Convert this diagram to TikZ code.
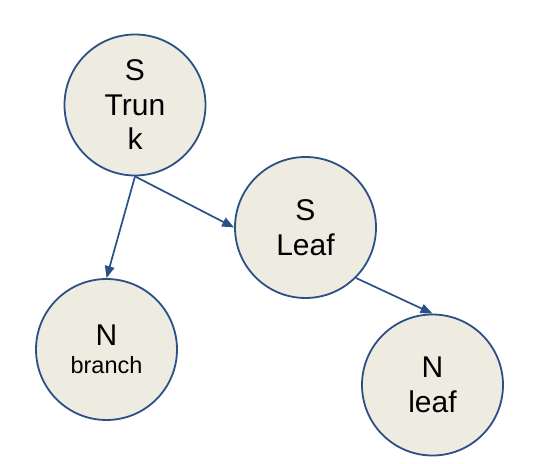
\documentclass[tikz,border=0pt]{standalone}
\usepackage{fontspec}
\setmainfont{Liberation Sans}
\usepackage{tikz}
\usetikzlibrary{arrows.meta, positioning}
\definecolor{treefill}{HTML}{EEECE1}
\definecolor{treeblue}{HTML}{2B5086}

\begin{document}
\begin{tikzpicture}[x=1pt, y=1pt,
    treenode/.style={circle, draw=treeblue, fill=treefill, line width=1.8pt, minimum size=141pt, inner sep=0pt, align=center, font=\fontsize{30}{34.5}\selectfont},
    treearrow/.style={draw=treeblue, line width=1.7pt, -{Triangle[length=12pt, width=9.5pt]}}]
    \useasboundingbox (0,0) rectangle (542,464);
    % nodes
    \node[treenode] (strunk) at (135,359) {S\\Trun\\k};
    \node[treenode] (sleaf) at (305.5,236.5) {S\\Leaf};
    \node[treenode] (nbranch) at (106.5,114.5) {N\\[-6pt]{\fontsize{23.5}{28}\selectfont branch}};
    \node[treenode] (nleaf) at (432.5,79) {N\\leaf};
    % arrows
    \draw[treearrow] (strunk.south) -- (nbranch.north);
    \draw[treearrow] (strunk.south) -- (sleaf.west);
    \draw[treearrow] (sleaf.south east) -- (nleaf.north);
  \end{tikzpicture}
\end{document}
